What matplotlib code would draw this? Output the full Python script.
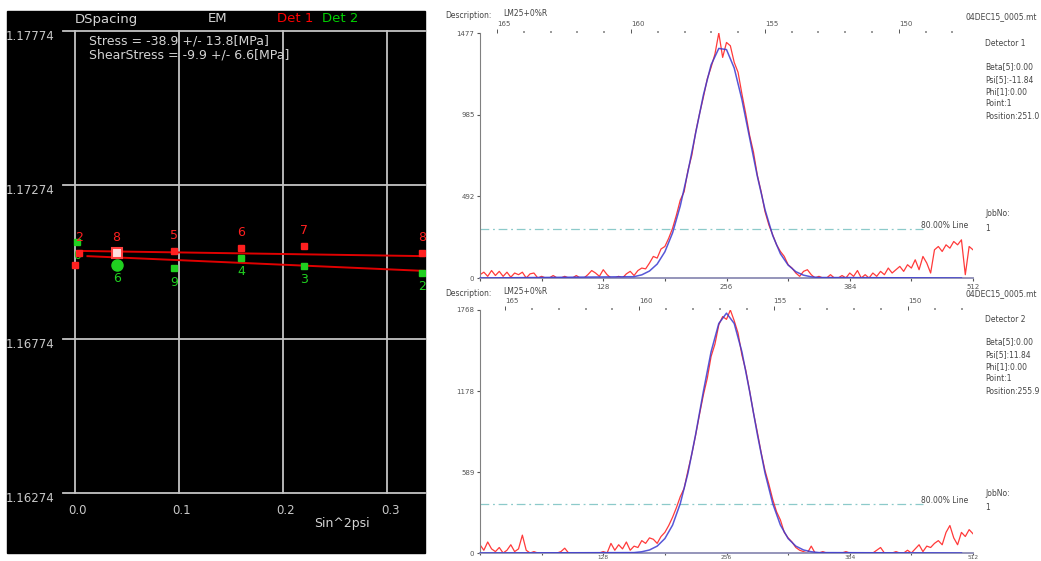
#!/usr/bin/env python3
"""
plot.py - residual stress screen: d-spacing vs sin^2(psi) plus the two
detector peak profiles (measured counts and fitted peak).

Writes out.png (1041x561).
"""

import matplotlib
matplotlib.use("Agg")  # Non-interactive backend
import matplotlib.pyplot as plt
from matplotlib.patches import Rectangle
from matplotlib.transforms import ScaledTranslation
import numpy as np

W, H = 1041, 561

# =========================================================================
# Data: d-spacing vs sin^2(psi)
# =========================================================================
det1_sin2psi = [0.0, 0.004, 0.040, 0.095, 0.160, 0.220, 0.334]
det1_dspacing = [1.17014, 1.17053, 1.17053, 1.17059, 1.17069, 1.17076, 1.17053]
det1_labels = ["", "2", "8", "5", "6", "7", "8"]

det2_sin2psi = [0.002, 0.040, 0.095, 0.160, 0.220, 0.334]
det2_dspacing = [1.17089, 1.17014, 1.17004, 1.17037, 1.17011, 1.16988]
det2_labels = ["0", "6", "9", "4", "3", "2"]

fit1_sin2psi = [0.004, 0.3365]
fit1_dspacing = [1.17060, 1.17043]
fit2_sin2psi = [0.012, 0.3365]
fit2_dspacing = [1.17043, 1.16995]

d_ticks = [1.16274, 1.16774, 1.17274, 1.17774]
s_ticks = [0.0, 0.1, 0.2, 0.3]

stress_text = "Stress = -38.9 +/- 13.8[MPa]"
shear_text = "ShearStress = -9.9 +/- 6.6[MPa]"

# =========================================================================
# Data: detector profiles (counts every 4 channels, 0..512)
# =========================================================================
channels = np.arange(0, 513, 4)

det1_counts = [
    20, 35, 10, 45, 15, 40, 10, 35,
    5, 30, 20, 35, 0, 25, 30, 0,
    10, 0, 0, 15, 0, 0, 10, 0,
    0, 15, 0, 0, 20, 45, 30, 10,
    50, 20, 0, 0, 10, 0, 25, 40,
    15, 45, 60, 55, 90, 130, 120, 175,
    190, 240, 300, 380, 470, 520, 650, 740,
    880, 990, 1090, 1200, 1270, 1350, 1477, 1330,
    1420, 1400, 1300, 1240, 1110, 990, 860, 760,
    620, 520, 400, 320, 260, 200, 160, 130,
    80, 60, 30, 10, 40, 50, 20, 0,
    10, 0, 0, 20, 0, 0, 15, 0,
    30, 10, 45, 0, 20, 0, 30, 10,
    40, 20, 60, 30, 50, 70, 40, 80,
    60, 110, 50, 130, 90, 30, 170, 190,
    160, 200, 180, 220, 200, 230, 20, 190,
    170,
]

det2_counts = [
    60, 20, 80, 30, 10, 40, 0, 20,
    60, 10, 30, 130, 20, 0, 10, 0,
    0, 0, 0, 0, 0, 10, 35, 0,
    0, 0, 0, 0, 0, 0, 0, 0,
    10, 0, 70, 20, 60, 30, 80, 20,
    50, 40, 90, 70, 110, 100, 70, 120,
    150, 200, 260, 330, 410, 470, 600, 720,
    860, 1010, 1150, 1270, 1430, 1520, 1660, 1720,
    1700, 1768, 1690, 1600, 1440, 1330, 1180, 1020,
    880, 730, 600, 500, 390, 300, 240, 150,
    110, 80, 40, 20, 10, 0, 50, 0,
    0, 10, 0, 0, 0, 0, 0, 10,
    0, 0, 0, 0, 0, 0, 0, 20,
    40, 0, 0, 0, 10, 0, 0, 20,
    0, 30, 60, 10, 50, 40, 70, 90,
    60, 150, 200, 110, 60, 150, 120, 170,
    140,
]

fit_channels = [0, 160, 168, 176, 184, 192, 200, 208, 216, 224, 232, 240, 248,
                256, 264, 272, 280, 288, 296, 304, 312, 320, 328, 336, 344, 352, 500]
det1_fit = [0, 8, 19, 42, 84, 158, 272, 435, 642, 875, 1103, 1285, 1384,
            1377, 1266, 1076, 845, 614, 412, 256, 146, 78, 38, 17, 7, 3, 0]
det2_fit = [0, 3, 9, 22, 50, 105, 203, 360, 582, 865, 1176, 1464, 1670,
            1745, 1670, 1464, 1176, 865, 582, 360, 203, 105, 50, 22, 9, 3, 0]

det1_yticks = [0, 492, 985, 1477]
det2_yticks = [0, 589, 1178, 1768]
chan_ticks = [0, 64, 128, 192, 256, 320, 384, 448, 512]
chan_labels = ["", "", "128", "", "256", "", "384", "", "512"]
tth_ticks = [165, 160, 155, 150]

# 2theta calibration (channel where 165 deg sits, deg per channel)
det1_tth = (17.7, 15.0 / 417.3)
det2_tth = (26.0, 15.0 / 418.4)

det1_info = ["Beta[5]:0.00", "Psi[5]:-11.84", "Phi[1]:0.00", "Point:1", "Position:251.0"]
det2_info = ["Beta[5]:0.00", "Psi[5]:11.84", "Phi[1]:0.00", "Point:1", "Position:255.9"]
threshold_frac = 0.20

RED = "#ff2020"
GREEN = "#20d020"
GRID = "#c4c4c4"
TXT = "#d4d4d4"


def px_rect(x0, y0, x1, y1):
    """Pixel box (top-left origin) -> figure fraction rect."""
    return [x0 / W, 1 - y1 / H, (x1 - x0) / W, (y1 - y0) / H]


def ftext(x, y, s, **kw):
    kw.setdefault("va", "center")
    fig.text(x / W, 1 - y / H, s, **kw)


fig = plt.figure(figsize=(W / 100, H / 100), dpi=100)
fig.patch.set_facecolor("white")

# =========================================================================
# Left panel: d-spacing vs sin^2psi
# =========================================================================
fig.add_artist(Rectangle((7 / W, 1 - 553 / H), 418 / W, 542 / H,
                         transform=fig.transFigure, color="black", zorder=0))

ax = fig.add_axes(px_rect(63, 31, 425, 493))
ax.set_facecolor("black")
ax.set_xlim(-0.0115, 0.3365)
ax.set_ylim(d_ticks[0], d_ticks[-1])
for sp in ax.spines.values():
    sp.set_visible(False)

for y in d_ticks:
    ax.axhline(y, color=GRID, lw=1.3, clip_on=False, zorder=1)
for x in s_ticks:
    ax.axvline(x, color=GRID, lw=1.3, clip_on=False, zorder=1)

ax.set_yticks(d_ticks, [f"{v:.5f}" for v in d_ticks])
ax.set_xticks(s_ticks, [f"{v:.1f}" for v in s_ticks])
ax.tick_params(length=0, colors="#c8c8c8", labelsize=8.5)
ax.tick_params(axis="y", pad=6)
ax.tick_params(axis="x", pad=8)
for lab in ax.get_yticklabels():
    lab.set_transform(lab.get_transform() + ScaledTranslation(0, -4 / 100, fig.dpi_scale_trans))
for lab in ax.get_xticklabels():
    lab.set_transform(lab.get_transform() + ScaledTranslation(3 / 100, 0, fig.dpi_scale_trans))

ax.plot(fit1_sin2psi, fit1_dspacing, color="#e00000", lw=1.4, zorder=2)
ax.plot(fit2_sin2psi, fit2_dspacing, color="#e00000", lw=1.4, zorder=2)

ax.plot(det2_sin2psi, det2_dspacing, "s", color=GREEN, ms=4.5, zorder=3)
ax.plot(det2_sin2psi[1], det2_dspacing[1], "o", color=GREEN, ms=8, zorder=3)
ax.plot(det1_sin2psi, det1_dspacing, "s", color=RED, ms=4.5, zorder=4)
ax.plot(det1_sin2psi[2], det1_dspacing[2], "s", mfc="#ffe0e0", mec="#ff4040",
        ms=6.5, mew=1.5, zorder=5)

for x, d, lab in zip(det1_sin2psi, det1_dspacing, det1_labels):
    ax.annotate(lab, (x, d), xytext=(0, 11), textcoords="offset points",
                ha="center", va="center", color=RED, fontsize=9)
for x, d, lab in zip(det2_sin2psi, det2_dspacing, det2_labels):
    ax.annotate(lab, (x, d), xytext=(0, -10), textcoords="offset points",
                ha="center", va="center", color=GREEN, fontsize=9)

ftext(75, 19, "DSpacing", color=TXT, fontsize=9.5)
ftext(208, 19, "EM", color=TXT, fontsize=9.5)
ftext(277, 19, "Det 1", color="#ff0000", fontsize=9.5)
ftext(322, 19, "Det 2", color="#00d000", fontsize=9.5)
ftext(89, 41, stress_text, color=TXT, fontsize=9)
ftext(89, 55, shear_text, color=TXT, fontsize=9)
ftext(342, 523, "Sin^2psi", color=TXT, fontsize=9, ha="center")


# =========================================================================
# Right panels: detector profiles
# =========================================================================
def detector_panel(top, bottom, counts, fit, yticks, tth_cal, name, info, y_info, y_job):
    pax = fig.add_axes(px_rect(480, top, 973, bottom))
    pax.set_xlim(0, 512)
    pax.set_ylim(0, yticks[-1])
    pax.spines["top"].set_visible(False)
    pax.spines["right"].set_visible(False)
    pax.spines["left"].set_color("#808080")
    pax.spines["bottom"].set_color("#8c8cb4")
    pax.spines["bottom"].set_linewidth(1.3)

    pax.set_yticks(yticks, [str(v) for v in yticks])
    pax.set_xticks(chan_ticks, chan_labels)
    pax.tick_params(labelsize=5, colors="#555555", length=2.5, pad=1.5)
    if bottom > H - 10:
        # labels of the lower panel sit right on the image edge
        pax.tick_params(axis="x", length=1.5, pad=0, labelsize=4.2)

    thr = max(counts) * threshold_frac
    pax.plot([0, 460], [thr, thr], color="#8ccaca", lw=0.9, ls=(0, (7, 3, 1.5, 3)))

    pax.plot(channels, counts, color="#ff3a3a", lw=0.9, zorder=2)
    pax.plot(fit_channels, fit, color="#3a3ad0", lw=1.1, alpha=0.85, zorder=3)

    ch0, step = tth_cal
    sec = pax.secondary_xaxis(
        "top",
        functions=(lambda c: 165.0 - (c - ch0) * step,
                   lambda t: ch0 + (165.0 - t) / step))
    sec.set_xticks(tth_ticks, [str(t) for t in tth_ticks])
    sec.set_xticks(np.arange(147, 166, 1), minor=True)
    sec.spines["top"].set_visible(False)
    sec.tick_params(which="major", length=3, width=0.7, pad=1, labelsize=5,
                    colors="#555555")
    sec.tick_params(which="minor", length=1.4, width=1.4, color="#9a9a9a")
    for lab in sec.get_xticklabels():
        lab.set_ha("left")

    ftext(445, top - 17, "Description:", fontsize=5.5, color="#444444")
    ftext(503, top - 19, "LM25+0%R", fontsize=5.5, color="#444444")
    ftext(966, top - 16, "04DEC15_0005.mt", fontsize=5.5, color="#444444")
    ftext(985, top + 10, name, fontsize=5.5, color="#444444")
    for i, line in enumerate(info):
        ftext(985, y_info + i * 12.3, line, fontsize=5.5, color="#444444")
    ftext(985, y_job, "JobNo:", fontsize=5.5, color="#444444")
    ftext(985, y_job + 15, "1", fontsize=5.5, color="#444444")
    y_line = bottom - (bottom - top) * thr / yticks[-1]
    ftext(968, y_line - 4, "80.00% Line", fontsize=5.5, color="#444444", ha="right")
    return pax


detector_panel(33, 278, det1_counts, det1_fit, det1_yticks, det1_tth,
               "Detector 1", det1_info, 67, 213)
detector_panel(310, 553, det2_counts, det2_fit, det2_yticks, det2_tth,
               "Detector 2", det2_info, 342, 493)

fig.savefig("out.png", dpi=100)
